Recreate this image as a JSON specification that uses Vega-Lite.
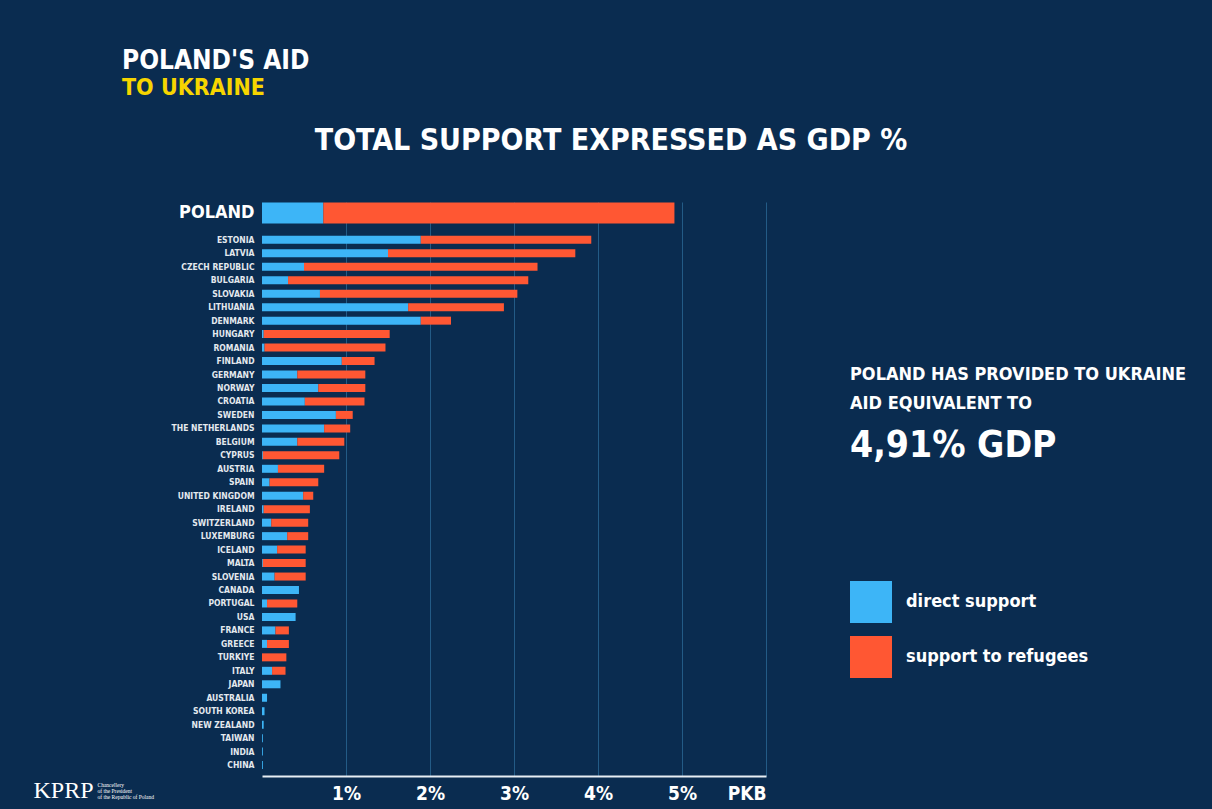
{
  "$schema": "https://vega.github.io/schema/vega-lite/v6.json",
  "background": "#0a2c50",
  "padding": {"left": 33, "top": 48, "right": 24, "bottom": 10},
  "bounds": "flush",
  "spacing": 84,
  "config": {
    "view": {"stroke": null},
    "font": "DejaVu Sans Condensed, Roboto, sans-serif"
  },
  "resolve": {"legend": {"color": "independent"}},
  "title": {
    "text": "POLAND'S AID",
    "subtitle": "TO UKRAINE",
    "anchor": "start",
    "dx": 89,
    "font": "DejaVu Sans Condensed, Roboto, sans-serif",
    "fontSize": 26,
    "fontWeight": "bold",
    "color": "#ffffff",
    "subtitleFont": "DejaVu Sans Condensed, Roboto, sans-serif",
    "subtitleFontSize": 23,
    "subtitleFontWeight": "bold",
    "subtitleColor": "#f6d500",
    "subtitlePadding": 3,
    "offset": 26
  },
  "datasets": {
    "aid": [
      {"country": "POLAND", "type": "direct support", "value": 0.73},
      {"country": "POLAND", "type": "support to refugees", "value": 4.18},
      {"country": "ESTONIA", "type": "direct support", "value": 1.89},
      {"country": "ESTONIA", "type": "support to refugees", "value": 2.03},
      {"country": "LATVIA", "type": "direct support", "value": 1.50},
      {"country": "LATVIA", "type": "support to refugees", "value": 2.23},
      {"country": "CZECH REPUBLIC", "type": "direct support", "value": 0.50},
      {"country": "CZECH REPUBLIC", "type": "support to refugees", "value": 2.78},
      {"country": "BULGARIA", "type": "direct support", "value": 0.31},
      {"country": "BULGARIA", "type": "support to refugees", "value": 2.86},
      {"country": "SLOVAKIA", "type": "direct support", "value": 0.69},
      {"country": "SLOVAKIA", "type": "support to refugees", "value": 2.35},
      {"country": "LITHUANIA", "type": "direct support", "value": 1.74},
      {"country": "LITHUANIA", "type": "support to refugees", "value": 1.14},
      {"country": "DENMARK", "type": "direct support", "value": 1.89},
      {"country": "DENMARK", "type": "support to refugees", "value": 0.36},
      {"country": "HUNGARY", "type": "direct support", "value": 0.02},
      {"country": "HUNGARY", "type": "support to refugees", "value": 1.50},
      {"country": "ROMANIA", "type": "direct support", "value": 0.03},
      {"country": "ROMANIA", "type": "support to refugees", "value": 1.44},
      {"country": "FINLAND", "type": "direct support", "value": 0.95},
      {"country": "FINLAND", "type": "support to refugees", "value": 0.39},
      {"country": "GERMANY", "type": "direct support", "value": 0.42},
      {"country": "GERMANY", "type": "support to refugees", "value": 0.81},
      {"country": "NORWAY", "type": "direct support", "value": 0.67},
      {"country": "NORWAY", "type": "support to refugees", "value": 0.56},
      {"country": "CROATIA", "type": "direct support", "value": 0.51},
      {"country": "CROATIA", "type": "support to refugees", "value": 0.71},
      {"country": "SWEDEN", "type": "direct support", "value": 0.88},
      {"country": "SWEDEN", "type": "support to refugees", "value": 0.20},
      {"country": "THE NETHERLANDS", "type": "direct support", "value": 0.74},
      {"country": "THE NETHERLANDS", "type": "support to refugees", "value": 0.31},
      {"country": "BELGIUM", "type": "direct support", "value": 0.42},
      {"country": "BELGIUM", "type": "support to refugees", "value": 0.56},
      {"country": "CYPRUS", "type": "direct support", "value": 0.01},
      {"country": "CYPRUS", "type": "support to refugees", "value": 0.91},
      {"country": "AUSTRIA", "type": "direct support", "value": 0.19},
      {"country": "AUSTRIA", "type": "support to refugees", "value": 0.55},
      {"country": "SPAIN", "type": "direct support", "value": 0.09},
      {"country": "SPAIN", "type": "support to refugees", "value": 0.58},
      {"country": "UNITED KINGDOM", "type": "direct support", "value": 0.49},
      {"country": "UNITED KINGDOM", "type": "support to refugees", "value": 0.12},
      {"country": "IRELAND", "type": "direct support", "value": 0.02},
      {"country": "IRELAND", "type": "support to refugees", "value": 0.55},
      {"country": "SWITZERLAND", "type": "direct support", "value": 0.11},
      {"country": "SWITZERLAND", "type": "support to refugees", "value": 0.44},
      {"country": "LUXEMBURG", "type": "direct support", "value": 0.30},
      {"country": "LUXEMBURG", "type": "support to refugees", "value": 0.25},
      {"country": "ICELAND", "type": "direct support", "value": 0.18},
      {"country": "ICELAND", "type": "support to refugees", "value": 0.34},
      {"country": "MALTA", "type": "direct support", "value": 0.01},
      {"country": "MALTA", "type": "support to refugees", "value": 0.51},
      {"country": "SLOVENIA", "type": "direct support", "value": 0.15},
      {"country": "SLOVENIA", "type": "support to refugees", "value": 0.37},
      {"country": "CANADA", "type": "direct support", "value": 0.44},
      {"country": "PORTUGAL", "type": "direct support", "value": 0.06},
      {"country": "PORTUGAL", "type": "support to refugees", "value": 0.36},
      {"country": "USA", "type": "direct support", "value": 0.40},
      {"country": "FRANCE", "type": "direct support", "value": 0.16},
      {"country": "FRANCE", "type": "support to refugees", "value": 0.16},
      {"country": "GREECE", "type": "direct support", "value": 0.06},
      {"country": "GREECE", "type": "support to refugees", "value": 0.26},
      {"country": "TURKIYE", "type": "support to refugees", "value": 0.29},
      {"country": "ITALY", "type": "direct support", "value": 0.12},
      {"country": "ITALY", "type": "support to refugees", "value": 0.16},
      {"country": "JAPAN", "type": "direct support", "value": 0.22},
      {"country": "AUSTRALIA", "type": "direct support", "value": 0.06},
      {"country": "SOUTH KOREA", "type": "direct support", "value": 0.03},
      {"country": "NEW ZEALAND", "type": "direct support", "value": 0.02},
      {"country": "TAIWAN", "type": "direct support", "value": 0.01},
      {"country": "INDIA", "type": "direct support", "value": 0.01},
      {"country": "CHINA", "type": "direct support", "value": 0.01}
    ]
  },
  "hconcat": [
    {
      "width": 504,
      "height": 574,
      "title": {
        "text": "TOTAL SUPPORT EXPRESSED AS GDP %",
        "font": "DejaVu Sans Condensed, Roboto, sans-serif",
        "fontSize": 30,
        "fontWeight": "bold",
        "color": "#ffffff",
        "anchor": "middle",
        "frame": "group",
        "dx": 97,
        "offset": 46
      },
      "data": {"name": "aid"},
      "mark": {"type": "bar"},
      "encoding": {
        "y": {
          "field": "country",
          "type": "nominal",
          "scale": {
            "domain": ["POLAND", " ", "ESTONIA", "LATVIA", "CZECH REPUBLIC", "BULGARIA", "SLOVAKIA", "LITHUANIA", "DENMARK", "HUNGARY", "ROMANIA", "FINLAND", "GERMANY", "NORWAY", "CROATIA", "SWEDEN", "THE NETHERLANDS", "BELGIUM", "CYPRUS", "AUSTRIA", "SPAIN", "UNITED KINGDOM", "IRELAND", "SWITZERLAND", "LUXEMBURG", "ICELAND", "MALTA", "SLOVENIA", "CANADA", "PORTUGAL", "USA", "FRANCE", "GREECE", "TURKIYE", "ITALY", "JAPAN", "AUSTRALIA", "SOUTH KOREA", "NEW ZEALAND", "TAIWAN", "INDIA", "CHINA"],
            "paddingInner": 0,
            "paddingOuter": 0.31
          },
          "axis": {
            "title": "KPRP",
            "titleAngle": 0,
            "titleAlign": "left",
            "titleBaseline": "alphabetic",
            "titleX": -229,
            "titleY": 595,
            "titleFont": "Liberation Serif",
            "titleFontSize": 24,
            "titleFontWeight": "normal",
            "titleColor": "#ffffff",
            "domain": false,
            "ticks": false,
            "grid": false,
            "labelPadding": 8,
            "labelFont": "DejaVu Sans Condensed, Roboto, sans-serif",
            "labelFontWeight": "bold",
            "labelFontSize": {"condition": {"test": "datum.value === 'POLAND'", "value": 18}, "value": 8.5},
            "labelColor": {"condition": {"test": "datum.value === 'POLAND'", "value": "#ffffff"}, "value": "#e4e9ee"}
          }
        },
        "x": {
          "field": "value",
          "type": "quantitative",
          "stack": "zero",
          "scale": {"domain": [0, 6], "nice": false},
          "axis": {
            "values": [1, 2, 3, 4, 5, 6],
            "labelExpr": "datum.value == 6 ? 'PKB' : datum.value + '%'",
            "labelFlush": true,
            "grid": true,
            "gridColor": "#235b86",
            "gridWidth": 1,
            "ticks": false,
            "domain": true,
            "domainColor": "#e8eef4",
            "domainWidth": 2,
            "labelFont": "DejaVu Sans Condensed, Roboto, sans-serif",
            "labelFontSize": 19,
            "labelFontWeight": "bold",
            "labelColor": "#ffffff",
            "labelPadding": 8,
            "title": ["Chancellery", "of the President", "of the Republic of Poland"],
            "titleX": -165,
            "titleY": 6,
            "titleAlign": "left",
            "titleBaseline": "top",
            "titleFont": "Liberation Serif",
            "titleFontSize": 5.5,
            "titleFontWeight": "normal",
            "titleColor": "#ffffff",
            "titleLineHeight": 6
          }
        },
        "color": {
          "field": "type",
          "type": "nominal",
          "scale": {"domain": ["direct support", "support to refugees"], "range": ["#3db5f7", "#ff5733"]},
          "legend": null
        },
        "order": {"field": "type", "type": "ordinal", "sort": "ascending"},
        "size": {"condition": {"test": "datum.country === 'POLAND'", "value": 21}, "value": 8}
      }
    },
    {
      "width": 340,
      "height": 574,
      "title": {
        "text": ["POLAND HAS PROVIDED TO UKRAINE", "AID EQUIVALENT TO"],
        "subtitle": "4,91% GDP",
        "anchor": "start",
        "orient": "top",
        "offset": -262,
        "font": "DejaVu Sans Condensed, Roboto, sans-serif",
        "fontSize": 18,
        "fontWeight": "bold",
        "color": "#ffffff",
        "lineHeight": 29,
        "subtitleFont": "DejaVu Sans Condensed, Roboto, sans-serif",
        "subtitleFontSize": 37,
        "subtitleFontWeight": "bold",
        "subtitleColor": "#ffffff",
        "subtitlePadding": 15
      },
      "data": {"values": []},
      "mark": "square",
      "encoding": {
        "color": {
          "field": "type",
          "type": "nominal",
          "scale": {"domain": ["direct support", "support to refugees"], "range": ["#3db5f7", "#ff5733"]},
          "legend": {
            "orient": "none",
            "legendX": 0,
            "legendY": 379,
            "title": null,
            "symbolType": "square",
            "symbolSize": 1764,
            "symbolStrokeWidth": 0,
            "symbolOpacity": 1,
            "labelFont": "DejaVu Sans Condensed, Roboto, sans-serif",
            "labelFontSize": 18,
            "labelFontWeight": "bold",
            "labelColor": "#ffffff",
            "labelOffset": 14,
            "labelLimit": 400,
            "rowPadding": 13
          }
        }
      }
    }
  ]
}
